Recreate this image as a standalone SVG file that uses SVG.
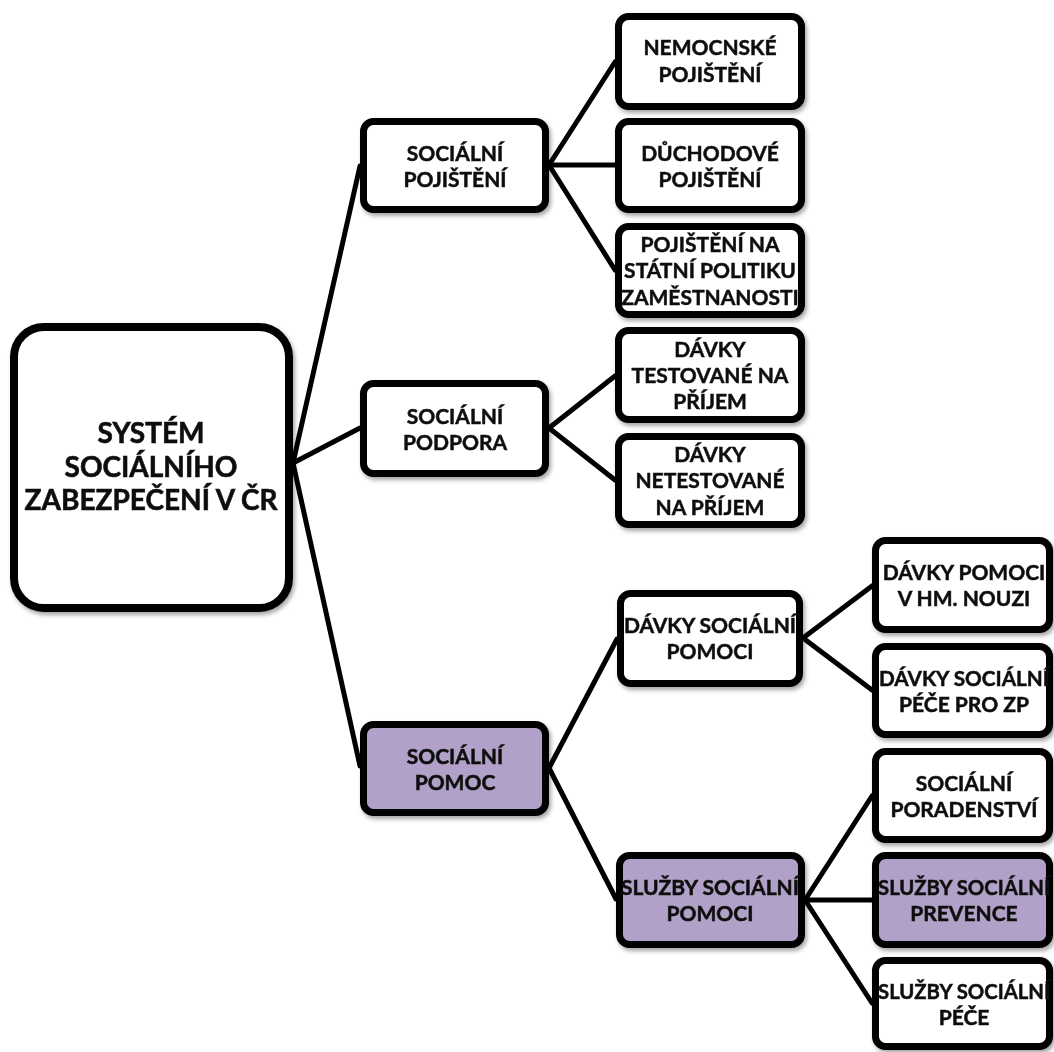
<svg xmlns="http://www.w3.org/2000/svg" width="1054" height="1052" viewBox="0 0 1054 1052">
<style>
.box{fill:#fff;stroke:#000;stroke-width:7}
.root{fill:#fff;stroke:#000;stroke-width:8}
.purple{fill:#b1a0c7}
.t{font-family:Lato,"Liberation Sans",sans-serif;font-weight:bold;font-size:21px;fill:#111;stroke:#111;stroke-width:0.5;text-anchor:middle}
.tr{font-size:28px;stroke-width:0.6}
.con line{stroke:#000;stroke-width:5;stroke-linecap:round}
</style>
<defs>
<filter id="sh" x="-10%" y="-10%" width="130%" height="130%">
<feDropShadow dx="2" dy="3" stdDeviation="2" flood-color="#000" flood-opacity="0.35"/>
</filter>
</defs>
<g class="con">
<line x1="293" y1="463" x2="360" y2="166"/>
<line x1="293" y1="463" x2="360" y2="428"/>
<line x1="293" y1="463" x2="360" y2="766"/>
<line x1="549" y1="165" x2="615" y2="62"/>
<line x1="549" y1="165" x2="615" y2="165"/>
<line x1="549" y1="165" x2="615" y2="270"/>
<line x1="549" y1="428" x2="615" y2="376"/>
<line x1="549" y1="428" x2="615" y2="480"/>
<line x1="549" y1="768" x2="617" y2="639"/>
<line x1="549" y1="768" x2="616" y2="899"/>
<line x1="803" y1="638" x2="872" y2="586"/>
<line x1="803" y1="638" x2="872" y2="690"/>
<line x1="805" y1="900" x2="872" y2="796"/>
<line x1="805" y1="900" x2="872" y2="900"/>
<line x1="805" y1="900" x2="872" y2="1003"/>
</g>
<g id="root" filter="url(#sh)">
<rect class="root" x="14" y="327" width="275" height="281" rx="30"/>
<text class="t tr" x="151" y="443">SYSTÉM</text>
<text class="t tr" x="151" y="477">SOCIÁLNÍHO</text>
<text class="t tr" x="151" y="510">ZABEZPEČENÍ V ČR</text>
</g>
<g id="socialni-pojisteni" filter="url(#sh)">
<rect class="box" x="363.5" y="121.5" width="182" height="88" rx="10"/>
<text class="t" x="455" y="161">SOCIÁLNÍ</text>
<text class="t" x="455" y="187">POJIŠTĚNÍ</text>
</g>
<g id="socialni-podpora" filter="url(#sh)">
<rect class="box" x="363.5" y="383.5" width="182" height="90" rx="10"/>
<text class="t" x="455" y="424">SOCIÁLNÍ</text>
<text class="t" x="455" y="450">PODPORA</text>
</g>
<g id="socialni-pomoc" filter="url(#sh)">
<rect class="box purple" x="363.5" y="724.5" width="182" height="88" rx="10"/>
<text class="t" x="455" y="764">SOCIÁLNÍ</text>
<text class="t" x="455" y="790">POMOC</text>
</g>
<g id="nemocenske" filter="url(#sh)">
<rect class="box" x="618.5" y="16.5" width="183" height="90" rx="10"/>
<text class="t" x="710" y="55">NEMOCNSKÉ</text>
<text class="t" x="710" y="82">POJIŠTĚNÍ</text>
</g>
<g id="duchodove" filter="url(#sh)">
<rect class="box" x="618.5" y="121.5" width="183" height="88" rx="10"/>
<text class="t" x="710" y="161">DŮCHODOVÉ</text>
<text class="t" x="710" y="187">POJIŠTĚNÍ</text>
</g>
<g id="statni-politika" filter="url(#sh)">
<rect class="box" x="618.5" y="226.5" width="183" height="88" rx="10"/>
<text class="t" x="710" y="252">POJIŠTĚNÍ NA</text>
<text class="t" x="710" y="278">STÁTNÍ POLITIKU</text>
<text class="t" x="710" y="305">ZAMĚSTNANOSTI</text>
</g>
<g id="testovane" filter="url(#sh)">
<rect class="box" x="618.5" y="330.5" width="183" height="89" rx="10"/>
<text class="t" x="710" y="357">DÁVKY</text>
<text class="t" x="710" y="383">TESTOVANÉ NA</text>
<text class="t" x="710" y="409">PŘÍJEM</text>
</g>
<g id="netestovane" filter="url(#sh)">
<rect class="box" x="618.5" y="436.5" width="183" height="88" rx="10"/>
<text class="t" x="710" y="462">DÁVKY</text>
<text class="t" x="710" y="488">NETESTOVANÉ</text>
<text class="t" x="710" y="515">NA PŘÍJEM</text>
</g>
<g id="davky-socialni-pomoci" filter="url(#sh)">
<rect class="box" x="620.5" y="593.5" width="179" height="90" rx="10"/>
<text class="t" x="710" y="633">DÁVKY SOCIÁLNÍ</text>
<text class="t" x="710" y="659">POMOCI</text>
</g>
<g id="sluzby-socialni-pomoci" filter="url(#sh)">
<rect class="box purple" x="619.5" y="855.5" width="182" height="89" rx="10"/>
<text class="t" x="710" y="895">SLUŽBY SOCIÁLNÍ</text>
<text class="t" x="710" y="921">POMOCI</text>
</g>
<g id="hmotna-nouze" filter="url(#sh)">
<rect class="box" x="875.5" y="540.5" width="174" height="89" rx="10"/>
<text class="t" x="964" y="580">DÁVKY POMOCI</text>
<text class="t" x="964" y="606">V HM. NOUZI</text>
</g>
<g id="pece-zp" filter="url(#sh)">
<rect class="box" x="875.5" y="646.5" width="174" height="88" rx="10"/>
<text class="t" x="964" y="686" textLength="170" lengthAdjust="spacingAndGlyphs">DÁVKY SOCIÁLNÍ</text>
<text class="t" x="964" y="712">PÉČE PRO ZP</text>
</g>
<g id="poradenstvi" filter="url(#sh)">
<rect class="box" x="875.5" y="751.5" width="174" height="88" rx="10"/>
<text class="t" x="964" y="791">SOCIÁLNÍ</text>
<text class="t" x="964" y="817">PORADENSTVÍ</text>
</g>
<g id="prevence" filter="url(#sh)">
<rect class="box purple" x="875.5" y="855.5" width="174" height="89" rx="10"/>
<text class="t" x="964" y="895" textLength="172" lengthAdjust="spacingAndGlyphs">SLUŽBY SOCIÁLNÍ</text>
<text class="t" x="964" y="921">PREVENCE</text>
</g>
<g id="pece" filter="url(#sh)">
<rect class="box" x="875.5" y="960.5" width="174" height="86" rx="10"/>
<text class="t" x="964" y="999" textLength="172" lengthAdjust="spacingAndGlyphs">SLUŽBY SOCIÁLNÍ</text>
<text class="t" x="964" y="1025">PÉČE</text>
</g>
</svg>
